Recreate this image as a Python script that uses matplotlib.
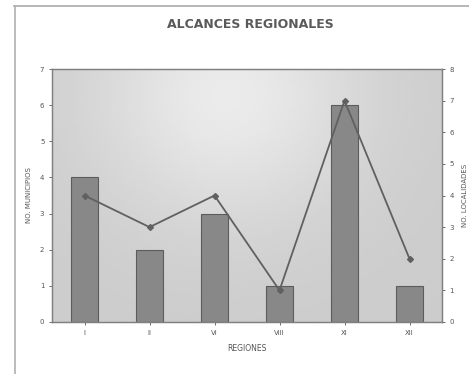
import matplotlib
matplotlib.use("Agg")
import matplotlib.pyplot as plt
import numpy as np

# data
regiones = ["I", "II", "VI", "VIII", "XI", "XII"]
municipios = [4, 2, 3, 1, 6, 1]
localidades = [4, 3, 4, 1, 7, 2]

txt = "#555555"

fig = plt.figure(figsize=(4.69, 3.74), dpi=100)
fig.patch.set_facecolor("white")

# scanned page frame lines
fig.add_artist(plt.Line2D([14 / 469, 1.0], [1 - 6 / 374, 1 - 6 / 374], color="#aaaaaa", lw=1.2))
fig.add_artist(plt.Line2D([15 / 469, 15 / 469], [0.0, 1 - 6 / 374], color="#b0b0b0", lw=1.2))

ax = fig.add_axes([52 / 469, 1 - 322 / 374, 390 / 469, 253 / 374])
x = np.arange(len(regiones))

# soft gray background like the scan
yy, xx = np.mgrid[0:1:100j, 0:1:100j]
shade = 0.80 + 0.12 * np.exp(-((xx - 0.45) ** 2 / 0.12 + (yy - 0.9) ** 2 / 0.25))
ax.imshow(shade, cmap="gray", vmin=0, vmax=1, extent=[-0.5, 5.5, 0, 7],
          aspect="auto", origin="lower", zorder=0)

ax.bar(x, municipios, width=0.42, color="#888888", edgecolor="#5c5c5c", lw=0.8, zorder=2)
ax.set_xlim(-0.5, 5.5)
ax.set_ylim(0, 7)
ax.set_yticks(range(8))
ax.set_xticks(x)
ax.set_xticklabels(regiones)
ax.set_ylabel("NO. MUNICIPIOS", fontsize=5, color=txt, labelpad=6)
ax.set_xlabel("REGIONES", fontsize=5.5, color=txt, labelpad=6)

ax2 = ax.twinx()
ax2.plot(x, localidades, color="#606060", lw=1.3, marker="D", ms=3, zorder=3)
ax2.set_ylim(0, 8)
ax2.set_yticks(range(9))
ax2.set_ylabel("NO. LOCALIDADES", fontsize=5, color=txt, labelpad=6)

for a in (ax, ax2):
    a.tick_params(labelsize=5, colors=txt, length=2, width=0.6)
    for s in a.spines.values():
        s.set_color("#808080")
        s.set_linewidth(0.9)

fig.text(250 / 469, 1 - 25 / 374, "ALCANCES REGIONALES", ha="center", va="center",
         fontsize=9, fontweight="bold", color="#5a5a5a")

fig.savefig("out.png", dpi=100)
